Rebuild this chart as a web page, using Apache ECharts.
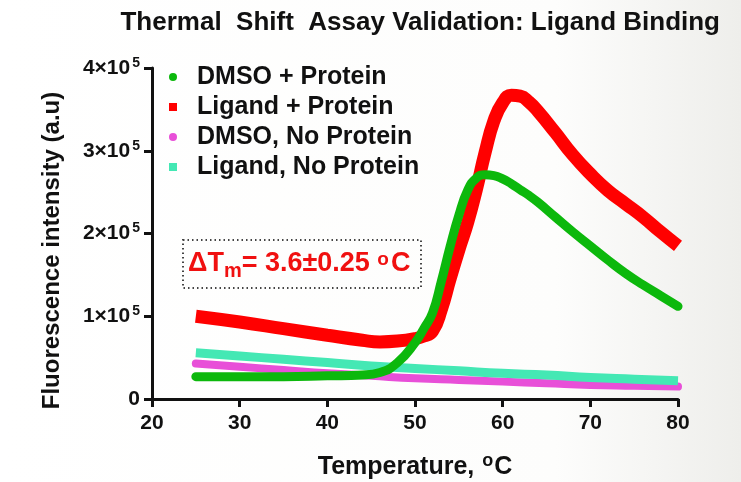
<!DOCTYPE html>
<html>
<head>
<meta charset="utf-8">
<script src="https://cdn.jsdelivr.net/npm/echarts@6/dist/echarts.min.js"></script>
<style>
  html, body { margin: 0; padding: 0; }
  #main { width: 741px; height: 482px; }
</style>
</head>
<body>
<div id="main"></div>
<script>
// temperatures (°C) for the protein curves
var tempProtein = [25, 30, 35, 40, 44, 46, 48, 50, 51, 52, 53, 54, 55, 56, 57, 58, 59, 60, 61, 62, 63, 64, 66, 68, 70, 72, 74, 76, 78, 80];
// fluorescence, x 1e5
var dmsoProtein = [0.27, 0.27, 0.27, 0.28, 0.29, 0.32, 0.44, 0.68, 0.85, 1.04, 1.42, 1.84, 2.22, 2.52, 2.67, 2.71, 2.70, 2.66, 2.60, 2.53, 2.46, 2.38, 2.20, 2.02, 1.85, 1.68, 1.52, 1.38, 1.25, 1.12];
var ligandProtein = [1.00, 0.93, 0.85, 0.77, 0.71, 0.69, 0.70, 0.73, 0.76, 0.82, 1.08, 1.45, 1.80, 2.13, 2.53, 2.98, 3.36, 3.58, 3.67, 3.66, 3.59, 3.48, 3.22, 2.95, 2.72, 2.52, 2.36, 2.20, 2.02, 1.85];
// no-protein controls
var tempControl = [25, 30, 35, 40, 45, 50, 55, 60, 65, 70, 75, 80];
var dmsoNoProtein = [0.43, 0.39, 0.35, 0.31, 0.28, 0.25, 0.23, 0.21, 0.19, 0.17, 0.16, 0.15];
var ligandNoProtein = [0.56, 0.52, 0.48, 0.44, 0.40, 0.37, 0.34, 0.31, 0.29, 0.26, 0.24, 0.22];

var seriesNames = ['DMSO + Protein', 'Ligand + Protein', 'DMSO, No Protein', 'Ligand, No Protein'];
var xTicks = [20, 30, 40, 50, 60, 70, 80];
var yTicks = [0, 1, 2, 3, 4]; // x 1e5

var FONT = '"Liberation Sans", Arial, sans-serif';
var SQUARE = 'path://M0,0H10V10H0Z';

function pairs(xs, ys) {
  return xs.map(function (x, i) { return [x, ys[i] * 1e5]; });
}

var myChart = echarts.init(document.getElementById('main'));

var option = {
  backgroundColor: {
    type: 'linear', x: 0, y: 0, x2: 1, y2: 0,
    colorStops: [{ offset: 0, color: '#ffffff' }, { offset: 0.75, color: '#fdfdfc' }, { offset: 1, color: '#eeeeeb' }]
  },
  textStyle: { fontFamily: FONT },
  title: {
    text: 'Thermal  Shift  Assay Validation: Ligand Binding',
    right: 16,
    top: 5,
    textStyle: { fontFamily: FONT, fontWeight: 'bold', fontSize: 26, color: '#111' }
  },
  legend: {
    orient: 'vertical',
    left: 164,
    top: 58,
    itemWidth: 38,
    itemHeight: 8,
    itemGap: 2,
    symbolKeepAspect: true,
    data: [
      { name: seriesNames[0], icon: 'circle' },
      { name: seriesNames[1], icon: SQUARE },
      { name: seriesNames[2], icon: 'circle' },
      { name: seriesNames[3], icon: SQUARE }
    ],
    textStyle: { fontFamily: FONT, fontWeight: 'bold', fontSize: 25, color: '#111', lineHeight: 28 }
  },
  grid: { left: 152, right: 63, top: 68, bottom: 83, outerBoundsMode: 'none' },
  xAxis: {
    type: 'value',
    min: 20,
    max: 80,
    interval: 10,
    name: '{t|Temperature, }{s|o}{t|C}',
    nameLocation: 'middle',
    nameGap: 53,
    nameTextStyle: {
      rich: {
        t: { fontFamily: FONT, fontWeight: 'bold', fontSize: 25, color: '#111', lineHeight: 30 },
        s: { fontFamily: FONT, fontWeight: 'bold', fontSize: 18, color: '#111', lineHeight: 30, verticalAlign: 'top', padding: [0, 1, 0, 1] }
      }
    },
    splitLine: { show: false },
    axisLine: { lineStyle: { color: '#111', width: 3 } },
    axisTick: { show: true, length: 8, lineStyle: { color: '#111', width: 3 } },
    axisLabel: {
      margin: 14,
      fontFamily: FONT, fontWeight: 'bold', fontSize: 21, color: '#111',
      formatter: function (v) { return xTicks.indexOf(v) >= 0 ? String(v) : ''; }
    }
  },
  yAxis: {
    type: 'value',
    min: 0,
    max: 400000,
    interval: 100000,
    name: 'Fluorescence intensity (a.u)',
    nameLocation: 'middle',
    nameRotate: 90,
    nameGap: 88,
    nameTextStyle: { fontFamily: FONT, fontWeight: 'bold', fontSize: 24, color: '#111', padding: [0, 34, 0, 0] },
    splitLine: { show: false },
    axisLine: { show: true, lineStyle: { color: '#111', width: 3 } },
    axisTick: { show: true, length: 8, lineStyle: { color: '#111', width: 3 } },
    axisLabel: {
      margin: 12,
      formatter: function (v) {
        var n = Math.round(v / 1e5);
        if (yTicks.indexOf(n) < 0) return '';
        return n === 0 ? '{b|0}' : '{b|' + n + '×10}{s|5}';
      },
      rich: {
        b: { fontFamily: FONT, fontWeight: 'bold', fontSize: 21, color: '#111', lineHeight: 24 },
        s: { fontFamily: FONT, fontWeight: 'bold', fontSize: 14, color: '#111', lineHeight: 24, verticalAlign: 'top', padding: [0, 0, 0, 2] }
      }
    }
  },
  graphic: [
    {
      type: 'rect',
      shape: { x: 183, y: 240, width: 238, height: 48 },
      style: { fill: 'none', stroke: '#444', lineWidth: 2, lineDash: [1.5, 3] },
      z: 100
    },
    {
      type: 'text',
      x: 188,
      y: 264,
      style: {
        text: '{b|ΔT}{m|m}{b|= 3.6±0.25 }{o|o}{b|C}',
        verticalAlign: 'middle',
        rich: {
          b: { fontFamily: FONT, fontWeight: 'bold', fontSize: 27, fill: '#f01010', lineHeight: 34 },
          m: { fontFamily: FONT, fontWeight: 'bold', fontSize: 20, fill: '#f01010', lineHeight: 34, verticalAlign: 'bottom' },
          o: { fontFamily: FONT, fontWeight: 'bold', fontSize: 19, fill: '#f01010', lineHeight: 34, verticalAlign: 'top', padding: [3, 2, 0, 0] }
        }
      },
      z: 100
    }
  ],
  series: [
    {
      name: seriesNames[0],
      type: 'line',
      smooth: true,
      showSymbol: false,
      z: 5,
      color: '#0cb80c',
      lineStyle: { width: 9, cap: 'round' },
      data: pairs(tempProtein, dmsoProtein)
    },
    {
      name: seriesNames[1],
      type: 'line',
      smooth: true,
      showSymbol: false,
      z: 2,
      color: '#ff0000',
      lineStyle: { width: 13 },
      data: pairs(tempProtein, ligandProtein)
    },
    {
      name: seriesNames[2],
      type: 'line',
      smooth: true,
      showSymbol: false,
      z: 3,
      color: '#e84fd8',
      lineStyle: { width: 8, cap: 'round' },
      data: pairs(tempControl, dmsoNoProtein)
    },
    {
      name: seriesNames[3],
      type: 'line',
      smooth: true,
      showSymbol: false,
      z: 4,
      color: '#44e8b4',
      lineStyle: { width: 9 },
      data: pairs(tempControl, ligandNoProtein)
    }
  ]
};

myChart.setOption(option);
</script>
</body>
</html>
